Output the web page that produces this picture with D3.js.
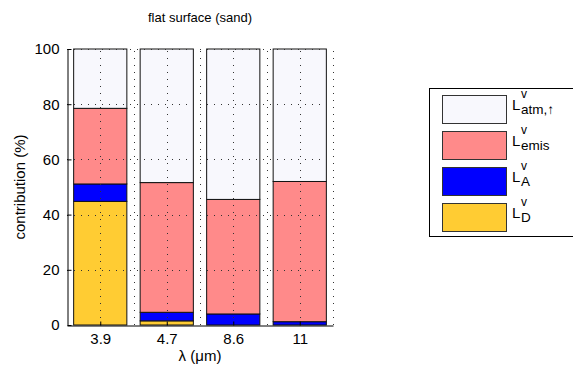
<!DOCTYPE html>
<html><head><meta charset="utf-8">
<script src="https://cdn.jsdelivr.net/npm/d3@7"></script>
<style>body{margin:0;background:#fff;}svg{display:block;font-family:"Liberation Sans",Arial,sans-serif;}</style>
</head><body>
<svg id="c" width="573" height="371"></svg>
<script>
const categories = ["3.9", "4.7", "8.6", "11"];
const LD    = [44.8, 1.5, 0, 0];
const LA    = [6.3, 3.1, 4.0, 1.2];
const Lemis = [27.4, 47.0, 41.5, 50.8];
const Latm  = [21.5, 48.4, 54.5, 48.0];
const yTicks = [0, 20, 40, 60, 80, 100];
const seriesKeys = ["D", "A", "emis", "atm"];
const seriesColors = {D: "#ffcc33", A: "#0000ff", emis: "#ff8a8a", atm: "#f8f8fd"};
const legendItems = [
  {key: "atm", sub: "atm,\u2191"},
  {key: "emis", sub: "emis"},
  {key: "A", sub: "A"},
  {key: "D", sub: "D"}
];

const rows = categories.map((c, i) => ({i: i + 1, D: LD[i], A: LA[i], emis: Lemis[i], atm: Latm[i]}));
const stack = d3.stack().keys(seriesKeys)(rows);

const svg = d3.select("#c");
const x = d3.scaleLinear().domain([0.5, 4.5]).range([67, 333]);
const y = d3.scaleLinear().domain([0, 100]).range([325, 49]);
const bw = x(1.4) - x(0.6);

// bars
stack.forEach(s => {
  svg.append("g").selectAll("rect").data(s).join("rect")
    .attr("x", d => x(d.data.i) - bw / 2)
    .attr("width", bw)
    .attr("y", d => y(d[1]))
    .attr("height", d => y(d[0]) - y(d[1]))
    .attr("fill", seriesColors[s.key])
    .attr("stroke", d => (d[1] - d[0]) > 0 ? "#111" : "none")
    .attr("stroke-width", 1);
});

// grid
const grid = svg.append("g").attr("stroke", "#333").attr("stroke-width", 1).attr("stroke-dasharray", "1,6");
yTicks.filter(t => t > 0).forEach(t => {
  grid.append("line").attr("x1", x(0.5)).attr("x2", x(4.5)).attr("y1", Math.round(y(t)) + 0.5).attr("y2", Math.round(y(t)) + 0.5);
});
d3.range(1, 4.51, 0.5).forEach(v => {
  grid.append("line").attr("x1", Math.round(x(v)) + 0.5).attr("x2", Math.round(x(v)) + 0.5).attr("y1", y(0)).attr("y2", y(100));
});

// axes
const yAxis = d3.axisLeft(y).tickValues(yTicks).tickSizeInner(-4).tickSizeOuter(0).tickPadding(8);
const gy = svg.append("g").attr("transform", `translate(${Math.round(x(0.5)) + 0.5},0)`).call(yAxis);
gy.selectAll("text").attr("font-size", 15).attr("font-family", "Liberation Sans, Arial, sans-serif").attr("fill", "#000");
gy.selectAll("line,path").attr("stroke", "#000");

const xAxis = d3.axisBottom(x).tickValues([1, 2, 3, 4]).tickFormat((d, i) => categories[i]).tickSizeInner(-4).tickSizeOuter(0).tickPadding(8);
const gx = svg.append("g").attr("transform", `translate(0,${Math.round(y(0)) + 0.5})`).call(xAxis);
gx.selectAll("text").attr("font-size", 15).attr("font-family", "Liberation Sans, Arial, sans-serif").attr("fill", "#000");
gx.selectAll("line,path").attr("stroke", "#000");

// titles
svg.append("text").attr("x", 200).attr("y", 22).attr("text-anchor", "middle").attr("font-size", 13).text("flat surface (sand)");
svg.append("text").attr("x", 200).attr("y", 361).attr("text-anchor", "middle").attr("font-size", 15).text("\u03bb (\u03bcm)");
svg.append("text").attr("transform", "translate(25,187) rotate(-90)").attr("text-anchor", "middle").attr("font-size", 15).text("contribution (%)");

// legend
const lg = svg.append("g");
lg.append("rect").attr("x", 429.5).attr("y", 88.5).attr("width", 160).attr("height", 148).attr("fill", "#fff").attr("stroke", "#000");
legendItems.forEach((it, k) => {
  const top = 95 + k * 36;
  lg.append("rect").attr("x", 442.5).attr("y", top + 0.5).attr("width", 64).attr("height", 28)
    .attr("fill", seriesColors[it.key]).attr("stroke", "#333");
  lg.append("text").attr("x", 512).attr("y", top + 15).attr("font-size", 15).text("L");
  lg.append("text").attr("x", 521).attr("y", top + 3).attr("font-size", 12).text("v");
  lg.append("text").attr("x", 521).attr("y", top + 18.5).attr("font-size", 13.5).text(it.sub);
});
</script>
</body></html>
